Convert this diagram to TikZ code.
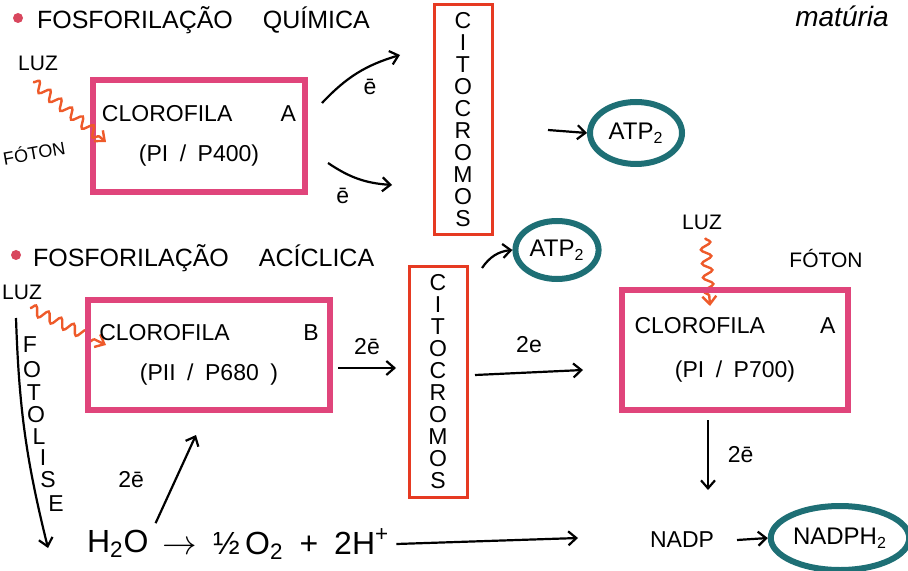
\documentclass[tikz,border=0pt]{standalone}
\usepackage{fontspec}
\setmainfont{Liberation Sans}
\usetikzlibrary{shapes.geometric, arrows.meta, positioning, calc, decorations.pathmorphing}
\definecolor{chlpink}{HTML}{E0457B}
\definecolor{cytred}{HTML}{E63A22}
\definecolor{atpteal}{HTML}{1E6F75}
\definecolor{waveorange}{HTML}{EE5A2A}
\definecolor{dotred}{HTML}{D8475E}

\begin{document}
\begin{tikzpicture}[x=0.5pt, y=-0.5pt, >={Straight Barb[length=4pt, width=7pt]},
    font=\fontsize{11.5}{13}\selectfont,
    chlbox/.style={rectangle, draw=chlpink, line width=3.2pt, align=center, inner sep=0pt},
    cytbox/.style={rectangle, draw=cytred, line width=1.5pt, minimum width=29pt,
      minimum height=115pt, align=center, font=\fontsize{11.5}{11}\selectfont},
    prodell/.style={ellipse, draw=atpteal, line width=3pt, inner sep=1pt,
      font=\fontsize{12}{14}\selectfont},
    flow/.style={->, line width=1.1pt},
    wave/.style={->, draw=waveorange, line width=1.2pt, decorate,
      decoration={snake, amplitude=2.5pt, segment length=7pt, post length=3pt}},
    head/.style={anchor=west, font=\fontsize{12.5}{14}\selectfont},
    tag/.style={font=\fontsize{10.5}{12}\selectfont},
  ]
  \useasboundingbox (0,0) rectangle (908,571);

  % --- fosforilacao quimica ---
  \fill[dotred] (18,18) circle (2.5pt);
  \node[head] (T1) at (30,20) {FOSFORILAÇÃO\hspace{1.2em}QUÍMICA};
  \node[font=\itshape\fontsize{14}{16}\selectfont] (note) at (842,16) {matúria};

  \node[tag] (luz1) at (38,63) {LUZ};
  \node[tag, font=\fontsize{9}{10}\selectfont, rotate=10] (foton1) at (34,152) {FÓTON};
  \node[chlbox, minimum width=106pt, minimum height=56pt] (chlA1) at (199,136)
    {CLOROFILA\hspace{2.1em}A\\[7pt](PI\enspace/\enspace P400)};
  \node[cytbox] (cyt1) at (463,120) {C\\I\\T\\O\\C\\R\\O\\M\\O\\S};
  \node[prodell, minimum width=46pt, minimum height=31pt] (atp1) at (636,133)
    {ATP\textsubscript{2}};

  \coordinate (w1s) at (33,82);
  \coordinate (w1e) at (106,142);
  \draw[wave] (w1s) -- (w1e);

  \coordinate (e1s) at (322,103);
  \coordinate (e1e) at (400,55);
  \coordinate (e2s) at (328,163);
  \coordinate (e2e) at (392,185);
  \draw[flow] (e1s) to[bend left=15] node[below right=-1pt] {ē} (e1e);
  \draw[flow] (e2s) to[bend right=15] node[below left=1pt] {ē} (e2e);
  \coordinate (a1s) at (548,130);
  \draw[flow] (a1s) -- (atp1.west);

  % --- fosforilacao aciclica ---
  \fill[dotred] (16,255) circle (2.5pt);
  \node[head] (T2) at (26,258) {FOSFORILAÇÃO\hspace{1.2em}ACÍCLICA};

  \node[tag] (luz2) at (22,292) {LUZ};
  \coordinate (w2s) at (30,308);
  \coordinate (w2e) at (106,345);
  \draw[wave] (w2s) -- (w2e);

  \coordinate (fots) at (16,318);
  \coordinate (fote) at (48,548);
  \draw[flow] (fots) to[bend right=6] (fote);
  \foreach \ch/\xx/\yy [count=\i] in {F/30/345, O/32/370, T/34/393, O/36/415,
      L/39/437, I/43/458, S/48/480, E/56/504}
    \node[font=\fontsize{11.5}{13}\selectfont] (fot\i) at (\xx,\yy) {\ch};

  \node[chlbox, minimum width=121pt, minimum height=55pt] (chlB) at (209,355)
    {CLOROFILA\hspace{3.2em}B\\[7pt](PII\enspace/\enspace P680\enspace)};
  \node[cytbox] (cyt2) at (438,382) {C\\I\\T\\O\\C\\R\\O\\M\\O\\S};
  \node[prodell, minimum width=40pt, minimum height=29pt] (atp2) at (557,250)
    {ATP\textsubscript{2}};

  \coordinate (b1s) at (338,368);
  \coordinate (b1e) at (396,368);
  \draw[flow] (b1s) -- node[above=3pt] {2ē} (b1e);
  \coordinate (c2s) at (482,268);
  \draw[flow] (c2s) to[bend left=25] (atp2.west);
  \coordinate (c3s) at (475,375);
  \coordinate (c3e) at (583,370);
  \draw[flow] (c3s) -- node[above=6pt] {2e} (c3e);

  \node[tag] (luz3) at (702,222) {LUZ};
  \node[tag] (foton3) at (826,258) {FÓTON};
  \coordinate (w3s) at (705,238);
  \coordinate (w3e) at (710,306);
  \draw[wave] (w3s) -- (w3e);
  \node[chlbox, minimum width=113pt, minimum height=60pt] (chlA2) at (735,350)
    {CLOROFILA\hspace{2.4em}A\\[9pt](PI\enspace/\enspace P700)};

  \coordinate (d1s) at (708,420);
  \coordinate (d1e) at (708,490);
  \draw[flow] (d1s) -- node[right=6pt] {2ē} (d1e);

  \node[font=\fontsize{11.5}{13}\selectfont] (nadp) at (682,540) {NADP};
  \node[prodell, minimum width=64pt, minimum height=32pt] (nadph) at (840,538)
    {NADPH\textsubscript{2}};
  \draw[flow] ([xshift=8pt]nadp.east) -- (nadph.west);

  % --- fotolise da agua ---
  \node[anchor=west, font=\fontsize{16}{18}\selectfont] (h2o) at (80,544)
    {H\textsubscript{2}O};
  \node[anchor=west, font=\fontsize{16}{18}\selectfont] (prods) at (h2o.east)
    {$\rightarrow$\hspace{0.5em}½\,O\textsubscript{2}\hspace{0.5em}+\hspace{0.5em}2H\textsuperscript{+}};
  \coordinate (longe) at (578,538);
  \draw[flow] (prods.east) -- (longe);
  \coordinate (upe) at (196,435);
  \draw[flow] (h2o.north east) -- node[left=12pt] {2ē} (upe);
\end{tikzpicture}
\end{document}
